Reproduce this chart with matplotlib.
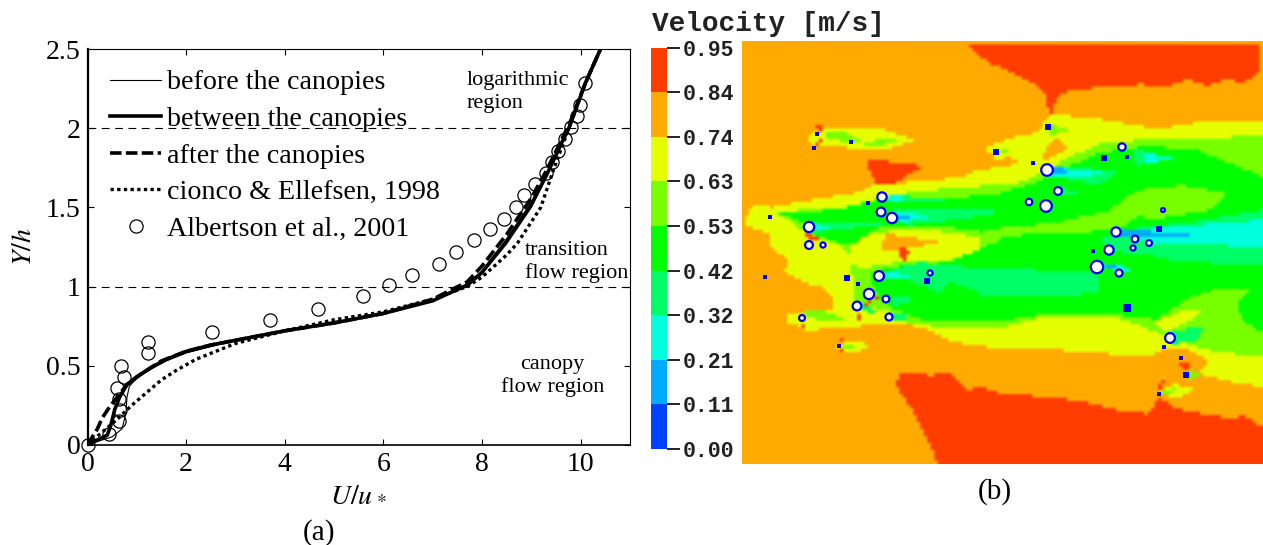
import numpy as np
import matplotlib
matplotlib.use("Agg")
import matplotlib.pyplot as plt
from matplotlib.colors import to_rgb
from matplotlib.path import Path

plt.rcParams["mathtext.fontset"] = "stix"

# panel (a): profiles, U/u* against Y/h
before_u = [0, 0.3, 0.5, 0.7, 0.78, 0.8, 0.85, 1.0, 1.3, 1.6, 2, 2.5, 3, 4, 5, 6, 7, 7.7, 8, 8.5, 9, 9.3, 9.6, 9.76, 10.1, 10.4]
before_y = [0, 0.03, 0.05, 0.1, 0.2, 0.3, 0.37, 0.42, 0.48, 0.53, 0.58, 0.62, 0.66, 0.72, 0.77, 0.83, 0.91, 1.0, 1.08, 1.27, 1.5, 1.69, 1.88, 2.0, 2.29, 2.5]
between_u = [0, 0.2, 0.4, 0.47, 0.55, 0.65, 0.8, 1.0, 1.3, 1.6, 2, 2.5, 3, 4, 5, 6, 7, 7.7, 8, 8.5, 9, 9.3, 9.6, 9.76, 10.1, 10.4]
between_y = [0, 0.03, 0.06, 0.12, 0.22, 0.3, 0.38, 0.43, 0.49, 0.54, 0.59, 0.63, 0.66, 0.72, 0.77, 0.83, 0.91, 1.01, 1.09, 1.29, 1.52, 1.7, 1.9, 2.0, 2.29, 2.5]
after_u = [0, 0.2, 0.3, 0.45, 0.6, 0.8, 1.1, 1.5, 2, 2.5, 3, 4, 5, 6, 7, 7.7, 8, 8.5, 9, 9.3, 9.6, 9.8, 10.1, 10.4]
after_y = [0, 0.1, 0.17, 0.24, 0.3, 0.38, 0.45, 0.53, 0.59, 0.63, 0.66, 0.72, 0.77, 0.83, 0.92, 1.03, 1.13, 1.33, 1.56, 1.73, 1.92, 2.05, 2.29, 2.5]
cionco_u = [0, 0.3, 0.6, 0.9, 1.2, 1.5, 1.8, 2.2, 2.6, 3, 3.5, 4, 5, 6, 7, 7.7, 8, 8.5, 8.72, 9.19, 9.45, 9.7, 9.9, 10.1, 10.4]
cionco_y = [0, 0.08, 0.16, 0.25, 0.33, 0.41, 0.47, 0.54, 0.59, 0.64, 0.68, 0.72, 0.79, 0.84, 0.92, 1.0, 1.06, 1.2, 1.275, 1.5, 1.74, 1.95, 2.12, 2.29, 2.5]
albertson_u = [0, 0.44, 0.63, 0.65, 0.63, 0.6, 0.75, 0.68, 1.23, 1.23, 2.53, 3.7, 4.67, 5.58, 6.12, 6.57, 7.12, 7.48, 7.84, 8.16, 8.44, 8.68, 8.86, 9.07, 9.29, 9.41, 9.54, 9.68, 9.81, 9.92, 9.99, 10.09]
albertson_y = [0, 0.07, 0.15, 0.22, 0.29, 0.36, 0.43, 0.5, 0.58, 0.65, 0.715, 0.79, 0.86, 0.94, 1.01, 1.07, 1.14, 1.22, 1.295, 1.365, 1.43, 1.5, 1.58, 1.65, 1.72, 1.79, 1.86, 1.93, 2.01, 2.08, 2.15, 2.29]
region_lines = [1, 2]
x_ticks = [0, 2, 4, 6, 8, 10]
y_ticks = [0, 0.5, 1, 1.5, 2, 2.5]
y_ticklabels = ["0", "0.5", "1", "1.5", "2", "2.5"]

# panel (b): colour classes, low to high
bar_labels = ["0.00", "0.11", "0.21", "0.32", "0.42", "0.53", "0.63", "0.74", "0.84", "0.95"]
bar_colors = ["#0040ff", "#00aaff", "#00ffdd", "#00ff66", "#00ff00", "#77ff00", "#e6ff00", "#ffaa00", "#ff3d00"]
ORANGE, RED, YELLOW, LIME, GREEN, SPRING, CYAN, SKY = 7, 8, 6, 5, 4, 3, 2, 1

field_regions = [
    (RED, [(968, 41), (977, 53), (993, 63), (1017, 73), (1037, 83), (1047, 95), (1049, 110), (1049, 123), (1053, 107), (1057, 97), (1067, 90), (1090, 87), (1143, 83), (1167, 85), (1190, 78), (1210, 85), (1227, 77), (1243, 82), (1263, 70), (1263, 41)]),
    (RED, [(895, 385), (900, 373), (907, 375), (920, 373), (930, 377), (943, 373), (950, 375), (967, 392), (980, 388), (1000, 395), (1050, 398), (1083, 403), (1123, 413), (1150, 415), (1158, 400), (1163, 400), (1177, 410), (1233, 420), (1247, 417), (1263, 428), (1263, 464), (937, 464), (917, 420)]),
    (RED, [(865, 158), (923, 165), (903, 177), (883, 190), (877, 190)]),
    (YELLOW, [(743, 220), (750, 205), (770, 207), (807, 200), (853, 193), (873, 185), (960, 177), (970, 172), (1017, 163), (1020, 160), (990, 152), (985, 147), (1010, 137), (1040, 131), (1045, 120), (1053, 113), (1100, 118), (1157, 128), (1207, 120), (1263, 120), (1263, 388), (1233, 383), (1207, 377), (1200, 372), (1210, 362), (1190, 353), (1163, 350), (1150, 358), (1050, 350), (1000, 350), (950, 342), (927, 330), (900, 323), (843, 328), (807, 331), (787, 323), (787, 313), (807, 313), (830, 310), (832, 300), (823, 288), (807, 285), (783, 273), (787, 260), (768, 247), (767, 233), (747, 227)]),
    (ORANGE, [(1040, 160), (1050, 142), (1057, 137), (1068, 148), (1050, 158)]),
    (YELLOW, [(805, 135), (820, 127), (880, 127), (915, 140), (880, 150), (830, 145), (810, 145)]),
    (LIME, [(825, 131), (850, 133), (862, 142), (850, 143), (825, 136)]),
    (LIME, [(863, 143), (885, 136), (895, 139), (880, 146)]),
    (YELLOW, [(835, 345), (860, 342), (868, 347), (860, 352), (838, 352)]),
    (LIME, [(841, 346), (855, 345), (852, 349), (841, 349)]),
    (YELLOW, [(990, 150), (1010, 145), (1030, 150), (1020, 156), (995, 158)]),
    (LIME, [(1000, 150), (1028, 151), (1000, 154)]),
    (LIME, [(1050, 122), (1068, 130), (1052, 134)]),
    (LIME, [(773, 213), (800, 210), (840, 208), (873, 200), (907, 192), (960, 187), (1017, 183), (1033, 177), (1067, 158), (1100, 143), (1150, 138), (1217, 138), (1263, 133), (1263, 357), (1217, 353), (1183, 343), (1150, 330), (1117, 318), (1043, 318), (1000, 328), (950, 330), (907, 323), (890, 313), (853, 303), (851, 273), (843, 247), (808, 235), (787, 220)]),
    (LIME, [(803, 310), (825, 312), (845, 320), (825, 322), (803, 316)]),
    (YELLOW, [(868, 232), (933, 230), (980, 237), (980, 250), (950, 260), (900, 262), (860, 268), (845, 262), (850, 245)]),
    (ORANGE, [(885, 233), (942, 243), (907, 248), (880, 253)]),
    (GREEN, [(775, 212), (800, 213), (840, 208), (860, 203), (887, 197), (920, 200), (950, 198), (1000, 193), (1033, 183), (1060, 170), (1100, 152), (1150, 145), (1200, 150), (1263, 175), (1263, 333), (1243, 320), (1240, 303), (1253, 290), (1217, 290), (1190, 298), (1158, 320), (1117, 315), (1043, 315), (1000, 322), (950, 322), (925, 322), (895, 310), (878, 300), (868, 275), (885, 268), (950, 262), (1000, 240), (1000, 235), (960, 228), (920, 226), (880, 225), (850, 246), (815, 235), (800, 222)]),
    (LIME, [(1110, 210), (1137, 190), (1183, 185), (1230, 193), (1210, 210), (1163, 218), (1137, 217), (1117, 230), (1000, 236), (980, 230), (1060, 222)]),
    (YELLOW, [(1157, 323), (1180, 312), (1203, 312), (1190, 322), (1165, 333)]),
    (LIME, [(1160, 202), (1185, 200), (1175, 208)]),
    (SPRING, [(950, 207), (983, 207), (1000, 212), (983, 216), (950, 220), (950, 207)]),
    (SPRING, [(888, 193), (925, 198), (960, 201), (925, 202), (888, 202)]),
    (SPRING, [(890, 210), (950, 209), (985, 212), (950, 220), (905, 225)]),
    (SPRING, [(815, 222), (850, 221), (885, 224), (850, 228), (815, 232)]),
    (SPRING, [(1050, 165), (1120, 170), (1100, 185), (1050, 175)]),
    (SPRING, [(1133, 147), (1177, 158), (1137, 165)]),
    (SPRING, [(1062, 188), (1080, 192), (1062, 195)]),
    (SPRING, [(1117, 230), (1183, 223), (1263, 210), (1263, 265), (1183, 262), (1150, 255), (1117, 252), (1100, 240)]),
    (SPRING, [(885, 272), (920, 262), (950, 266), (1097, 273), (1100, 293), (1050, 298), (983, 298), (973, 290), (950, 283), (940, 293)]),
    (SPRING, [(1170, 332), (1205, 328), (1200, 340), (1175, 345)]),
    (SPRING, [(893, 295), (915, 300), (893, 308)]),
    (SPRING, [(893, 313), (915, 318), (893, 322)]),
    (SPRING, [(860, 302), (878, 314), (862, 312)]),
    (CYAN, [(1117, 230), (1167, 227), (1263, 220), (1263, 248), (1200, 243), (1150, 243)]),
    (CYAN, [(1050, 165), (1083, 170), (1110, 172), (1085, 176), (1050, 175)]),
    (CYAN, [(1145, 152), (1175, 158), (1145, 163)]),
    (CYAN, [(1100, 266), (1140, 267), (1120, 273)]),
    (CYAN, [(888, 194), (918, 198), (888, 201)]),
    (CYAN, [(895, 212), (935, 215), (900, 223)]),
    (CYAN, [(815, 224), (840, 226), (815, 230)]),
    (CYAN, [(885, 272), (920, 276), (885, 280)]),
    (SKY, [(1048, 167), (1066, 168), (1066, 174), (1048, 174)]),
    (SKY, [(1118, 230), (1190, 233), (1190, 236), (1118, 235)]),
    (SKY, [(895, 214), (915, 216), (898, 220)]),
    (SKY, [(1105, 265), (1125, 268), (1105, 270)]),
    (ORANGE, [(1163, 350), (1190, 350), (1210, 362), (1200, 372), (1207, 377), (1190, 385), (1163, 385)]),
    (YELLOW, [(1158, 394), (1175, 385), (1195, 390), (1180, 400)]),
    (LIME, [(1162, 394), (1178, 389), (1170, 398)]),
    (LIME, [(1190, 371), (1205, 375), (1192, 380)]),
    (RED, [(1180, 364), (1192, 364), (1190, 372), (1184, 372)]),
    (RED, [(1158, 385), (1166, 380), (1164, 388), (1160, 392)]),
    (RED, [(814, 125), (822, 122), (820, 131)]),
    (RED, [(817, 139), (824, 141), (815, 145)]),
    (RED, [(897, 247), (910, 250), (905, 260), (897, 258)]),
    (RED, [(803, 233), (822, 237), (810, 241)]),
    (RED, [(868, 300), (880, 297), (862, 308)]),
    (RED, [(855, 312), (862, 318), (858, 322)]),
    (RED, [(836, 338), (842, 338), (840, 345)]),
    (RED, [(837, 349), (843, 349), (840, 355)]),
    (RED, [(800, 323), (805, 323), (802, 328)]),
]

# obstacle positions on the map
open_x = [882, 881, 892, 809, 809, 823, 879, 869, 857, 886, 889, 802, 930, 1047, 1058, 1046, 1029, 1122, 1116, 1135, 1149, 1163, 1109, 1097, 1119, 1133, 1170]
open_y = [197, 212, 218, 227, 245, 245, 276, 294, 306, 299, 317, 318, 273, 170, 191, 206, 202, 147, 232, 239, 243, 210, 250, 267, 273, 248, 338]
open_size = [45, 40, 55, 55, 32, 14, 50, 55, 40, 24, 26, 18, 14, 70, 32, 70, 22, 28, 45, 24, 18, 8, 45, 80, 26, 14, 50]
solid_x = [817, 814, 851, 770, 868, 765, 847, 858, 927, 839, 1048, 996, 1033, 1104, 1127, 1159, 1093, 1127, 1164, 1181, 1186, 1159]
solid_y = [134, 148, 142, 217, 203, 277, 278, 284, 281, 346, 127, 152, 163, 158, 157, 229, 251, 308, 347, 358, 375, 394]
solid_size = [12, 7, 6, 10, 10, 7, 20, 10, 15, 6, 18, 15, 5, 18, 12, 18, 12, 26, 10, 7, 15, 12]


def rasterize_field(shape=(121, 149)):
    xs = np.linspace(742, 1263, shape[1])
    ys = np.linspace(41, 464, shape[0])
    gx, gy = np.meshgrid(xs, ys)
    pts = np.column_stack([gx.ravel(), gy.ravel()])
    levels = np.full(pts.shape[0], ORANGE)
    for level, outline in field_regions:
        levels[Path(outline).contains_points(pts)] = level
    return levels.reshape(shape)


def px_axes(fig, left, top, right, bottom):
    w, h = fig.get_size_inches() * fig.dpi
    return fig.add_axes([left / w, 1 - bottom / h, (right - left) / w, (bottom - top) / h])


serif = "Liberation Serif"
fig = plt.figure(figsize=(12.63, 5.45), dpi=100)

# (a) profiles
ax = px_axes(fig, 87.5, 49.3, 630, 444.7)
ax.plot(before_u, before_y, "k-", lw=0.8, label="before the canopies")
ax.plot(between_u, between_y, "k-", lw=2.6, label="between the canopies")
ax.plot(after_u, after_y, "k--", lw=2.6, dashes=(3.2, 1.2), label="after the canopies")
ax.plot(cionco_u, cionco_y, "k:", lw=2.4, dashes=(1, 1), label="cionco & Ellefsen, 1998")
ax.plot(albertson_u, albertson_y, "o", mfc="none", mec="k", mew=0.9, ms=9.5, clip_on=False,
        ls="none", label="Albertson et al., 2001")
for level in region_lines:
    ax.axhline(level, color="k", lw=0.8, dashes=(7, 5))
ax.set_xlim(0, 11)
ax.set_ylim(0, 2.5)
ax.set_xticks(x_ticks)
ax.set_yticks(y_ticks)
ax.set_yticklabels(y_ticklabels)
ax.tick_params(direction="in", top=True, right=True, length=4, width=0.8, labelsize=20, pad=5)
for lab in ax.get_xticklabels() + ax.get_yticklabels():
    lab.set_fontfamily(serif)
ax.spines["left"].set_linewidth(1.6)
ax.spines["bottom"].set_linewidth(1.2)
ax.spines["top"].set_linewidth(0.8)
ax.spines["right"].set_linewidth(0.8)
ax.set_xlabel("$U/u_{\\,*}$", fontsize=20, labelpad=2)
ax.set_ylabel("$Y/h$", fontsize=20, labelpad=6)
ax.legend(loc="upper left", bbox_to_anchor=(0.0415, 0.948), frameon=False, borderpad=0, borderaxespad=0,
          handlelength=1.82, handletextpad=0.22, labelspacing=0.39,
          prop={"family": serif, "size": 20.2}, numpoints=1)
ax.text(7.68, 2.23, "logarithmic\nregion", family=serif, fontsize=16, va="center", ha="left", linespacing=1.25)
ax.text(8.87, 1.156, "transition\nflow region", family=serif, fontsize=16, va="center", ha="left", linespacing=1.25)
ax.text(9.43, 0.435, "canopy\nflow region", family=serif, fontsize=16, va="center", ha="center", linespacing=1.25)
fig.text(319 / 1263, 1 - 533 / 545, "(a)", family=serif, fontsize=21, ha="center", va="center")
fig.text(995 / 1263, 1 - 492 / 545, "(b)", family=serif, fontsize=21, ha="center", va="center")

# (b) velocity map
ax_map = px_axes(fig, 742, 41, 1263, 464)
rgb = np.array([to_rgb(c) for c in bar_colors])[rasterize_field()]
ax_map.imshow(rgb, extent=(742, 1263, 464, 41), aspect="auto", interpolation="bilinear")
ax_map.scatter(open_x, open_y, s=open_size, c="white", edgecolors="#0000ee", linewidths=1.6, marker="o", zorder=3)
ax_map.scatter(solid_x, solid_y, s=solid_size, c="#0000ee", linewidths=0, marker="s", zorder=3)
ax_map.set_xlim(742, 1263)
ax_map.set_ylim(464, 41)
ax_map.axis("off")

# colour scale
ax_bar = px_axes(fig, 651, 47.5, 667, 449)
ax_bar.pcolormesh([0, 1], np.arange(len(bar_labels)), np.arange(len(bar_colors)).reshape(-1, 1),
                  cmap=matplotlib.colors.ListedColormap(bar_colors), vmin=-0.5, vmax=8.5)
ax_bar.set_xticks([])
ax_bar.yaxis.tick_right()
ax_bar.set_yticks(np.arange(len(bar_labels)))
ax_bar.set_yticklabels(bar_labels, family="Liberation Mono", fontweight="bold", fontsize=15.5, color="#222222")
ax_bar.tick_params(axis="y", length=9, width=1.4, pad=2, colors="#222222")
for spine in ax_bar.spines.values():
    spine.set_visible(False)
fig.text(652 / 1263, 1 - 24 / 545, "Velocity [m/s]", family="Liberation Mono", fontweight="bold",
         fontsize=20, color="#222222", ha="left", va="center")

plt.savefig("out.png", dpi=100)
plt.close()
